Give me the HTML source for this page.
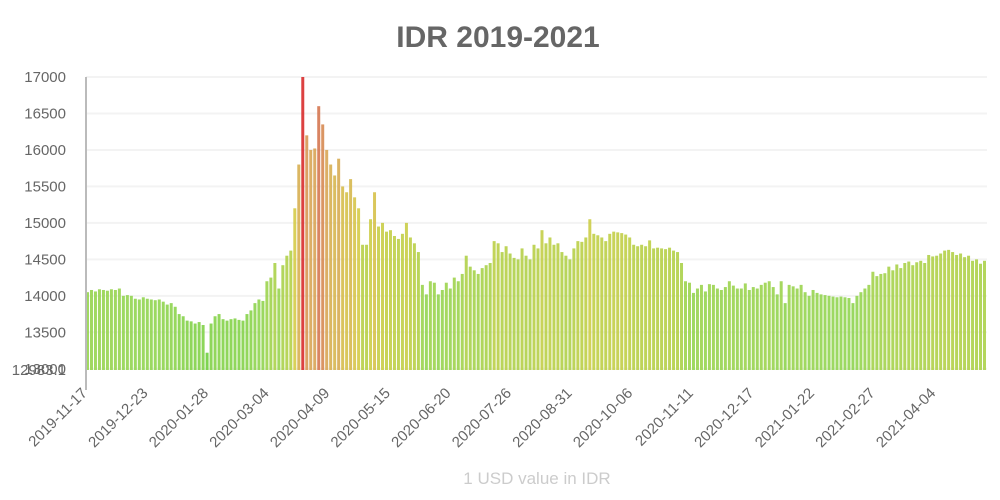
<!DOCTYPE html>
<html><head><meta charset="utf-8"><style>
body{margin:0;background:#fff;font-family:"Liberation Sans",sans-serif}
svg{display:block}
</style></head><body>
<svg id="chart" width="1000" height="500" xmlns="http://www.w3.org/2000/svg" font-family="Liberation Sans, sans-serif">
<text x="498" y="47" text-anchor="middle" font-size="30" font-weight="bold" fill="#666">IDR 2019-2021</text>
<g id="grid"></g>
<g id="bars"></g>
<g id="yaxis"></g>
<g id="xaxis"></g>
<text x="537" y="484" text-anchor="middle" font-size="17" fill="#ccc">1 USD value in IDR</text>
</svg>
<script>
const values=[14050,14080,14060,14090,14080,14070,14090,14080,
14100,14000,14010,14000,
13960,13950,13980,13960,13950,13940,13950,
13920,13880,13900,13850,
13750,13720,13660,13650,
13620,13640,13600,
13220,
13620,13720,13750,
13680,13660,13680,13690,13670,13660,
13750,13800,13900,13950,13930,
14200,14250,14450,14100,
14420,14550,14620,
15200,15800,17000,16200,16000,16020,16600,16350,16000,15800,15650,15880,15500,15420,15600,15350,15200,14700,14700,15050,15420,14950,15000,14880,14900,14820,14780,14850,15000,14800,14720,14600,
14150,14020,14200,14180,14020,14080,14180,14100,14250,14200,14300,14550,14400,14350,14300,14380,14420,14450,14750,14720,14600,14680,14580,14520,14500,14650,14550,14500,14700,14650,14900,14720,14800,14700,14720,14600,14550,14500,14650,14750,14740,14800,15050,14850,14830,14800,14750,14850,14880,14870,14860,14840,14800,14700,14680,14700,14680,14760,14650,14660,14650,14640,14660,14620,14600,14450,
14200,14180,14040,14100,14150,14060,14160,14150,14100,14080,14120,14200,14140,14100,14100,14170,14080,14120,14100,14150,14180,14200,14120,14020,14200,13900,14150,14130,14100,14150,14050,14000,14080,14040,14020,14010,14000,13990,13980,13990,13980,13970,13900,14000,14050,14100,14150,14330,14270,14300,14310,14400,14350,14430,14380,14450,14470,14420,14460,14480,14450,14560,14540,14550,14580,14620,14630,14600,14560,14580,14530,14550,14480,14500,14440,14480];
const yTicks=[13000,13500,14000,14500,15000,15500,16000,16500,17000];
const yMin=12983.1, yMax=17000;
const xLabels=["2019-11-17","2019-12-23","2020-01-28","2020-03-04","2020-04-09","2020-05-15","2020-06-20","2020-07-26","2020-08-31","2020-10-06","2020-11-11","2020-12-17","2021-01-22","2021-02-27","2021-04-04"];
const NS="http://www.w3.org/2000/svg";
const L=86,R=987,T=77,B=370;
function y(v){return B-(v-yMin)/(yMax-yMin)*(B-T);}
const step=(R-L)/values.length;
function x(i){return L+i*step;}
function col(v){
  const stops=[[13200,[102,204,51]],[14000,[140,210,70]],[14700,[180,205,60]],[15200,[210,200,60]],[16000,[214,160,74]],[16600,[210,110,70]],[17000,[214,32,32]]];
  if(v<=stops[0][0])return `rgb(${stops[0][1]})`;
  for(let k=1;k<stops.length;k++){if(v<=stops[k][0]){const a=stops[k-1],b=stops[k],t=(v-a[0])/(b[0]-a[0]);const c=a[1].map((q,j)=>Math.round(q+(b[1][j]-q)*t));return `rgb(${c})`;}}
  return `rgb(${stops[stops.length-1][1]})`;
}
const grid=document.getElementById('grid'),ya=document.getElementById('yaxis'),xa=document.getElementById('xaxis'),bars=document.getElementById('bars');
yTicks.forEach(t=>{
  const l=document.createElementNS(NS,'line');
  
  
  l.setAttribute('x1',L);l.setAttribute('x2',R);l.setAttribute('y1',y(t));l.setAttribute('y2',y(t));
  l.setAttribute('stroke','#f3f3f3');l.setAttribute('stroke-width','2');grid.appendChild(l);
  const tx=document.createElementNS(NS,'text');
  
  
  tx.setAttribute('x',66);tx.setAttribute('y',y(t)+5);tx.setAttribute('text-anchor','end');tx.setAttribute('font-size','15');tx.setAttribute('fill','#666');tx.textContent=t;ya.appendChild(tx);
});
const bl=document.createElementNS(NS,'text');


bl.setAttribute('x',66);bl.setAttribute('y',B+5);bl.setAttribute('text-anchor','end');bl.setAttribute('font-size','15');bl.setAttribute('fill','#666');bl.textContent=String(yMin);ya.appendChild(bl);
values.forEach((v,i)=>{
  const r=document.createElementNS(NS,'rect');
  
  
  r.setAttribute('x',x(i).toFixed(2));r.setAttribute('width',(step-1).toFixed(2));
  r.setAttribute('y',y(v).toFixed(2));r.setAttribute('height',(B-y(v)).toFixed(2));
  r.setAttribute('fill',col(v));r.setAttribute('fill-opacity','0.85');bars.appendChild(r);
});
const ax=document.createElementNS(NS,'line');


ax.setAttribute('x1',L);ax.setAttribute('x2',L);ax.setAttribute('y1',T);ax.setAttribute('y2',390);ax.setAttribute('stroke','#bbb');ax.setAttribute('stroke-width','2');ya.appendChild(ax);
xLabels.forEach((s,i)=>{
  const px=88+60.6*i;
  const tx=document.createElementNS(NS,'text');
  
  
  tx.setAttribute('transform',`translate(${px},394) rotate(-45)`);
  tx.setAttribute('text-anchor','end');tx.setAttribute('font-size','15');tx.setAttribute('fill','#666');tx.textContent=s;xa.appendChild(tx);
});
</script>
</body></html>
